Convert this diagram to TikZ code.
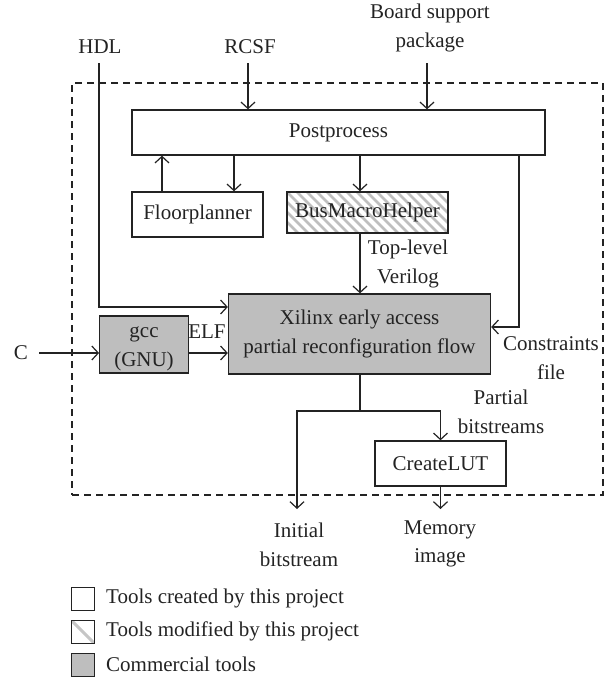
\documentclass[tikz,border=0pt]{standalone}
\usepackage{fontspec}
\setmainfont{Liberation Serif}
\usetikzlibrary{arrows.meta,calc}
\definecolor{boxgray}{RGB}{190,190,190}
\definecolor{ink}{RGB}{35,35,35}
\begin{document}
\begin{tikzpicture}[x=1pt,y=-1pt,
  every node/.style={font=\fontsize{21}{28.5}\selectfont, text=ink},
  lbl/.style={inner sep=0pt, align=center},
  box/.style={draw=ink, line width=1.3pt, inner sep=0pt, align=center},
  commercial/.style={box, fill=boxgray},
  hatched/.style={box, path picture={
      \foreach \i in {-80,-70,...,200}{
        \draw[gray!50, line width=2.6pt]
          ($(path picture bounding box.north west)+(\i,0)$) -- ++(60,60);}
    }},
  conn/.style={draw=ink, line width=1.2pt},
  arr/.style={conn, -{Straight Barb[length=6.5pt,width=14pt,line width=1.2pt]}},
  legsq/.style={draw=ink, line width=1.2pt, minimum width=23pt, minimum height=23pt, inner sep=0pt}
]
\useasboundingbox (0,0) rectangle (608,678);

% frame
\node[draw=ink, line width=1.2pt, dash pattern=on 7pt off 5pt, minimum width=531pt, minimum height=412pt, inner sep=0pt] (frame) at (337.5,289) {};

% inputs
\node[lbl] (hdl) at (100,47) {HDL};
\node[lbl] (rcsf) at (250,47) {RCSF};
\node[lbl] (bsp) at (430,28) {Board support\\package};
\node[lbl] (c) at (21,353) {C};

% boxes
\node[box, minimum width=413pt, minimum height=45pt] (post) at (338.5,132.5) {Postprocess};
\node[box, minimum width=131pt, minimum height=45pt] (floor) at (197.5,214.5) {Floorplanner};
\node[hatched, minimum width=161pt, minimum height=41pt] (bmh) at (367.5,212.5) {BusMacroHelper};
\node[commercial, minimum width=262pt, minimum height=80pt] (xil) at (359.5,334) {Xilinx early access\\partial reconfiguration flow};
\node[commercial, minimum width=88.5pt, minimum height=57pt] (gcc) at (144,344.5) {};
\node[lbl] (gcctxt) at (144,349) {gcc\\(GNU)};
\node[box, minimum width=131pt, minimum height=45pt] (lut) at (440.5,463.5) {CreateLUT};

% labels
\node[lbl] (tlv) at (408,264) {Top-level\\Verilog};
\node[lbl] (cons) at (551,358) {Constraints\\file};
\node[lbl] (elf) at (207,332) {ELF};
\node[lbl] (pb) at (501,412) {Partial\\bitstreams};
\node[lbl] (ib) at (299,545) {Initial\\bitstream};
\node[lbl] (mi) at (440,544) {Memory\\image};

% coordinates
\coordinate (hdlstart) at (99,63);
\coordinate (rcsfstart) at (248,63);
\coordinate (bspstart) at (427,63);
\coordinate (cstart) at (39,353);
\coordinate (junc) at (360,411);
\coordinate (ibend) at (297,509);
\coordinate (miend) at (440.5,509);

% connectors
\draw[arr] (hdlstart) |- (xil.west |- 0,307);
\draw[arr] (rcsfstart) -- (rcsfstart |- post.north);
\draw[arr] (bspstart) -- (bspstart |- post.north);
\draw[arr] (floor.north -| 162,0) -- (post.south -| 162,0);
\draw[arr] (post.south -| 234,0) -- (floor.north -| 234,0);
\draw[arr] (post.south -| 360,0) -- (bmh.north -| 360,0);
\draw[arr] (bmh.south -| 360,0) -- (xil.north -| 360,0);
\draw[arr] (post.south -| 519,0) |- (xil.east |- 0,327);
\draw[arr] (cstart) -- (gcc.west |- cstart);
\draw[arr] (gcc.east |- cstart) -- (xil.west |- cstart);
\draw[conn] (xil.south -| junc) -- (junc);
\draw[arr] (junc) -| (lut.north);
\draw[arr] (junc) -| (ibend);
\draw[arr] (lut.south) -- (miend);

% legend
\node[legsq, anchor=north west] (l1) at (71,587) {};
\node[legsq, anchor=north west, path picture={
   \draw[gray!45, line width=3pt] (path picture bounding box.north west) -- (path picture bounding box.south east);}] (l2) at (71,620) {};
\node[legsq, anchor=north west, fill=boxgray] (l3) at (71,653) {};
\node[lbl, anchor=west] (t1) at (106,598.5) {Tools created by this project};
\node[lbl, anchor=west] (t2) at (106,631.5) {Tools modified by this project};
\node[lbl, anchor=west] (t3) at (106,664.5) {Commercial tools};
\end{tikzpicture}
\end{document}
